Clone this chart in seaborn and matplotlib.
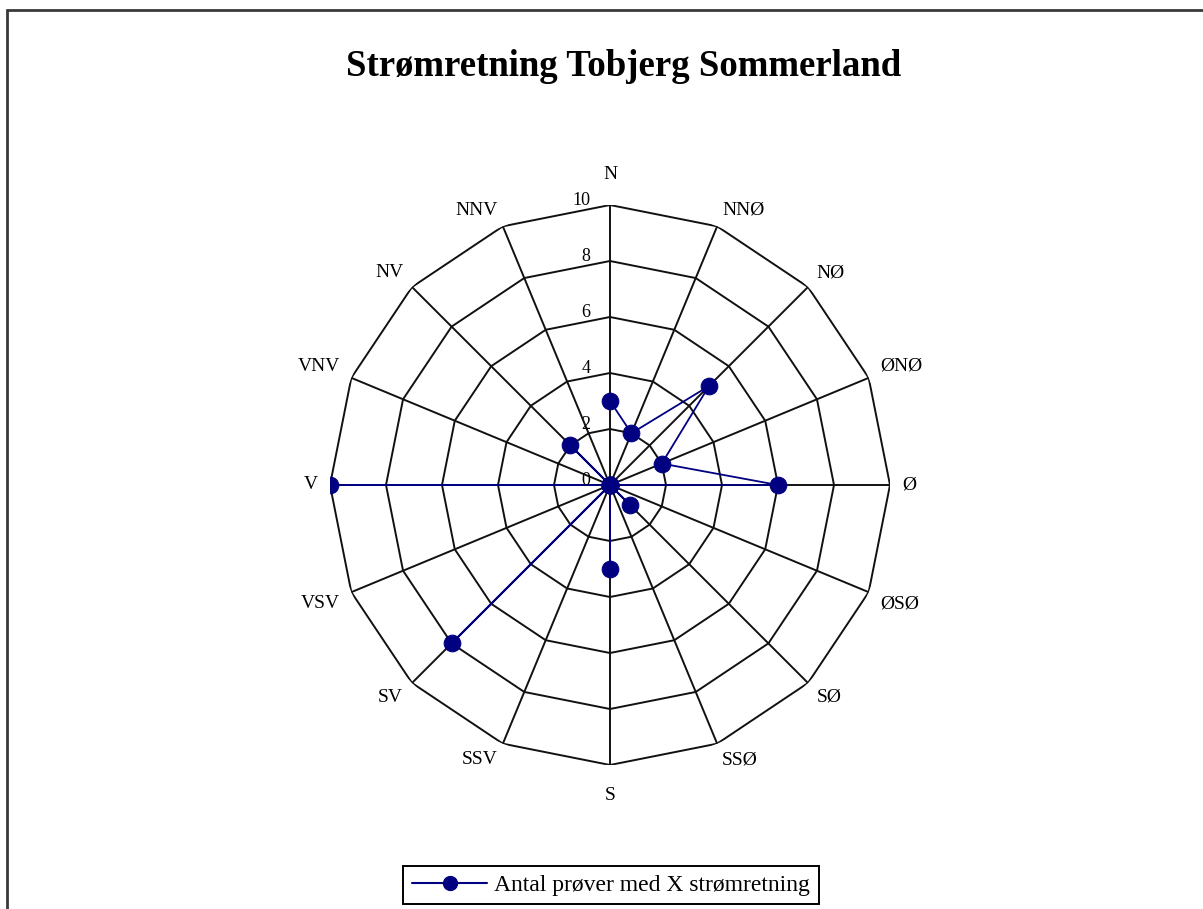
import numpy as np
import pandas as pd
import matplotlib
matplotlib.use("Agg")
import matplotlib.pyplot as plt
from matplotlib.patches import Rectangle
from matplotlib.lines import Line2D
import seaborn as sns

directions = ["N", "NNØ", "NØ", "ØNØ", "Ø", "ØSØ", "SØ", "SSØ",
              "S", "SSV", "SV", "VSV", "V", "VNV", "NV", "NNV"]
counts = [3, 2, 5, 2, 6, 0, 1, 0, 3, 0, 8, 0, 10, 0, 2, 0]
radial_ticks = [0, 2, 4, 6, 8, 10]
title = "Strømretning Tobjerg Sommerland"
series_label = "Antal prøver med X strømretning"

sns.set_theme(style="white")
plt.rcParams["font.family"] = ["Liberation Serif", "DejaVu Serif"]
plt.rcParams["text.color"] = "black"

fig = plt.figure(figsize=(12.03, 9.09), dpi=100)
fig.patch.set_facecolor("white")

# outer frame (only left/top visible in reference)
fig.patches.append(Rectangle((7 / 1203, -0.2), 1.3, 1.2 - 10 / 909,
                             transform=fig.transFigure, fill=False,
                             edgecolor="#3a3a3a", lw=2.0, zorder=0))

cx, cy, R = 610, 485, 280
W, H = 1203, 909
ax = fig.add_axes([(cx - R) / W, 1 - (cy + R) / H, 2 * R / W, 2 * R / H],
                  projection="polar")
ax.set_theta_zero_location("N")
ax.set_theta_direction(-1)
ax.set_ylim(0, 10)
ax.grid(False)
ax.spines["polar"].set_visible(False)
ax.set_xticks([])
ax.set_yticks([])
ax.patch.set_alpha(0)

n = len(directions)
theta = np.arange(n) * 2 * np.pi / n
theta_c = np.append(theta, theta[0])

# polygonal grid rings
for r in radial_ticks[1:]:
    ax.plot(theta_c, [r] * (n + 1), color="#111111", lw=1.4, zorder=1)
# spokes
for t in theta:
    ax.plot([t, t], [0, 10], color="#111111", lw=1.4, zorder=1)

# data series
df = pd.DataFrame({"theta": theta_c, "value": counts + [counts[0]]})
sns.lineplot(data=df, x="theta", y="value", sort=False, ax=ax,
             color="#000080", lw=1.3, marker="o", markersize=12,
             markeredgecolor="#000080", zorder=3)
ax.set_xlabel("")
ax.set_ylabel("")

# direction labels
for t, lab in zip(theta, directions):
    s, c = np.sin(t), np.cos(t)
    ha = "left" if s > 0.1 else ("right" if s < -0.1 else "center")
    va = "bottom" if c > 0.1 else ("top" if c < -0.1 else "center")
    dx, dy = 9 * s, 6 * c
    if abs(s) < 0.1:
        dy = 16 * np.sign(c)
    ax.annotate(lab, xy=(t, 10), xytext=(dx, dy), textcoords="offset points",
                ha=ha, va=va, fontsize=14, color="black")

# radial tick labels
for r in radial_ticks:
    ax.annotate(str(r), xy=(0, r), xytext=(-14, 3), textcoords="offset points",
                ha="right", va="center", fontsize=13, color="black")

fig.text(624 / W, 1 - 66 / H, title, ha="center", va="center",
         fontsize=26.5, fontweight="bold", color="black")

handle = Line2D([], [], color="#000080", lw=1.5, marker="o", markersize=10)
leg = fig.legend([handle], [series_label], loc="center",
                 bbox_to_anchor=(611 / W, 1 - 885 / H), fontsize=17,
                 frameon=True, fancybox=False, edgecolor="black",
                 handlelength=3.2, handletextpad=0.3, borderpad=0.35,
                 borderaxespad=0, framealpha=1, labelcolor="black")
leg.get_frame().set_linewidth(1.4)

fig.savefig("out.png", dpi=100, facecolor="white")
